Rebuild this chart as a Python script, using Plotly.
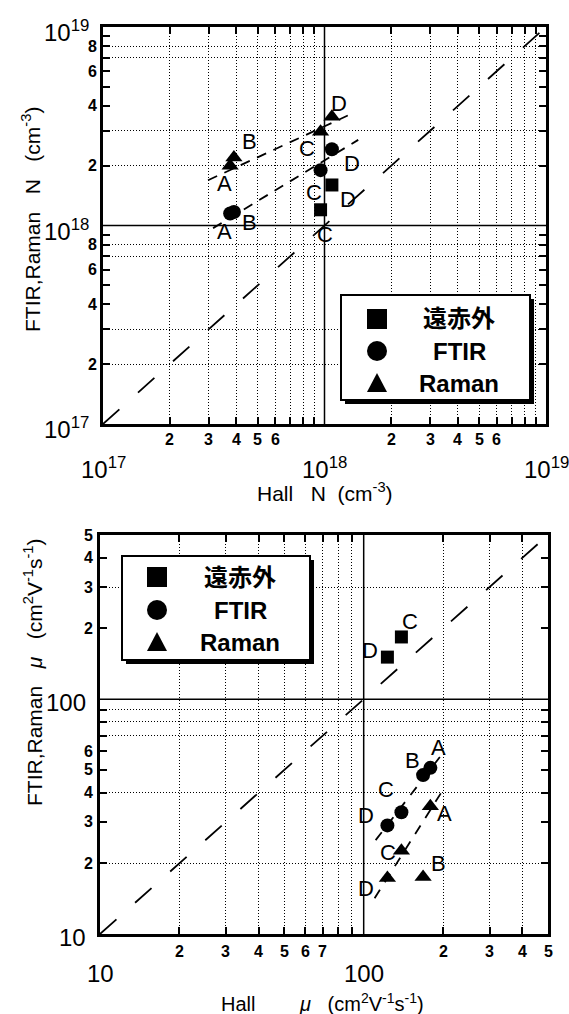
import numpy as np
import plotly.graph_objects as go

W, H = 569, 1014
FONT = "Liberation Sans"
CJK = "Noto Sans CJK JP"
SP = "\u00a0"

# ---------------- data ----------------
series_names = ["遠赤外", "FTIR", "Raman"]
samples = ["A", "B", "C", "D"]
far_ir_samples = ["C", "D"]

# carrier concentration N (cm^-3)
hall_n = [3.75e17, 3.9e17, 9.6e17, 1.08e18]
far_ir_n = [1.20e18, 1.60e18]
ftir_n = [1.15e18, 1.17e18, 1.90e18, 2.42e18]
raman_n = [2.00e18, 2.20e18, 2.97e18, 3.53e18]

# trend lines drawn through the FTIR and Raman concentrations
n_fit_ftir_x = [3.14e17, 1.42e18]
n_fit_ftir_y = [9.7e17, 2.70e18]
n_fit_raman_x = [2.98e17, 1.35e18]
n_fit_raman_y = [1.69e18, 3.69e18]

# mobility mu (cm^2 V^-1 s^-1)
hall_mu = [179, 168, 139, 123]
far_ir_mu = [184, 151]
ftir_mu = [51, 47.5, 33, 29]
raman_mu = [35, 17.5, 22.6, 17.3]

mu_fit_ftir_x = [111, 195]
mu_fit_ftir_y = [25.1, 56.9]
mu_fit_raman_x = [110, 198]
mu_fit_raman_y = [14.2, 40.4]

# axis extents
n_range = [1e17, 1e19]
mu_range = [10, 500]
n_decades = [1e17, 1e18]
mu_decades = [10, 100]

# multipliers that get a digit label / a dotted grid line
n_x_label_mult = [2, 3, 4, 5, 6]
n_y_label_mult = [2, 4, 6, 8]
n_x_grid_mult = [2, 3, 4, 5, 6, 7, 8, 9]
n_y_grid_mult = [2, 3, 7, 8]
mu_x_label_mult = [[2, 3, 4, 5, 6, 7], [2, 3, 4, 5]]
mu_y_label_mult = [[2, 3, 4, 5, 6], [2, 3, 4, 5]]
mu_x_grid_mult = [[2, 3, 4, 5, 6, 7, 8, 9], [2, 3, 4]]
mu_y_grid_mult = [[2, 4, 7, 8, 9], [3]]

# ---------------- helpers ----------------
def px_x(x):
    return x / W


def px_y(y):
    return 1 - y / H


def lg(v):
    return float(np.log10(v))


hall_far_n = [hall_n[samples.index(s)] for s in far_ir_samples]
hall_far_mu = [hall_mu[samples.index(s)] for s in far_ir_samples]


def decade_vals(decades, mults, upper):
    out = []
    for i, d in enumerate(decades):
        m = mults[i] if isinstance(mults[0], list) else mults
        out += [k * d for k in m if k * d <= upper]
    return out


all_mult = list(range(2, 10))
n_ticks = decade_vals(n_decades, all_mult, n_range[1])
mu_ticks = decade_vals(mu_decades, [all_mult, all_mult], mu_range[1])
mu_ticks = [v for v in mu_ticks if v < mu_range[1]] + [mu_range[1]]


def log_axis(domain, rng, tick_vals, grid_vals, anchor):
    return dict(
        type="log", domain=domain, range=[lg(rng[0]), lg(rng[1])],
        anchor=anchor, tickmode="array", tickvals=tick_vals,
        ticks="inside", ticklen=7, tickwidth=1.5, tickcolor="black",
        showticklabels=False, showgrid=False, zeroline=False,
        showline=True, linecolor="black", linewidth=2.5, mirror="ticks",
        minor=dict(tickmode="array", tickvals=grid_vals, showgrid=True,
                   gridcolor="black", gridwidth=1, griddash="1px,2px", ticks=""),
        fixedrange=True,
    )


fig = go.Figure()


def lines(x, y, xa, ya, dash, width):
    fig.add_trace(go.Scatter(
        x=x, y=y, mode="lines", xaxis=xa, yaxis=ya, showlegend=False,
        hoverinfo="skip", line=dict(color="black", width=width, dash=dash)))


def marks(x, y, xa, ya, symbol, size):
    fig.add_trace(go.Scatter(
        x=x, y=y, mode="markers", xaxis=xa, yaxis=ya, showlegend=False,
        marker=dict(symbol=symbol, size=size, color="black", line=dict(width=0))))


# ---- top panel: concentration ----
lines([n_decades[1]] * 2, n_range, "x", "y", "solid", 1.5)
lines(n_range, [n_decades[1]] * 2, "x", "y", "solid", 1.5)
lines(n_range, n_range, "x", "y", "22px,25px", 1.8)
lines(n_fit_raman_x, n_fit_raman_y, "x", "y", "10px,8px", 1.8)
lines(n_fit_ftir_x, n_fit_ftir_y, "x", "y", "10px,8px", 1.8)
marks(hall_far_n, far_ir_n, "x", "y", "square", 13)
marks(hall_n, ftir_n, "x", "y", "circle", 14)
marks(hall_n, raman_n, "x", "y", "triangle-up", 15)

# ---- bottom panel: mobility ----
lines([mu_decades[1]] * 2, mu_range, "x2", "y2", "solid", 1.5)
lines(mu_range, [mu_decades[1]] * 2, "x2", "y2", "solid", 1.5)
lines(mu_range, mu_range, "x2", "y2", "22px,25px", 1.8)
lines(mu_fit_ftir_x, mu_fit_ftir_y, "x2", "y2", "10px,9px", 1.8)
lines(mu_fit_raman_x, mu_fit_raman_y, "x2", "y2", "10px,9px", 1.8)
marks(hall_far_mu, far_ir_mu, "x2", "y2", "square", 13)
marks(hall_mu, ftir_mu, "x2", "y2", "circle", 14)
marks(hall_mu, raman_mu, "x2", "y2", "triangle-up", 15)

top_x_dom = [px_x(103), px_x(546)]
top_y_dom = [px_y(424), px_y(27)]
bot_x_dom = [px_x(100), px_x(548)]
bot_y_dom = [px_y(934), px_y(535)]

n_x_grid = decade_vals(n_decades, n_x_grid_mult, n_range[1])
n_y_grid = decade_vals(n_decades, n_y_grid_mult, n_range[1])
mu_x_grid = decade_vals(mu_decades, mu_x_grid_mult, mu_range[1])
mu_y_grid = decade_vals(mu_decades, mu_y_grid_mult, mu_range[1])

annotations = []


def ann(text, x, y, xref, yref, size, xanchor="center", yanchor="middle",
        xshift=0, yshift=0, family=FONT, angle=0):
    annotations.append(dict(
        text=text, x=x, y=y, xref=xref, yref=yref, showarrow=False,
        xanchor=xanchor, yanchor=yanchor, xshift=xshift, yshift=yshift,
        textangle=angle, font=dict(family=family, size=size, color="black")))


# tick labels, top panel
for d in n_decades:
    for m in n_x_label_mult:
        ann(f"<b>{m}</b>", lg(m * d), 0, "x", "y domain", 16, yshift=-15)
    for m in n_y_label_mult:
        ann(f"<b>{m}</b>", 0, lg(m * d), "x domain", "y", 16,
            xanchor="right", xshift=-4)
for d in n_decades + [n_range[1]]:
    e = int(round(lg(d)))
    ann(f"10<sup>{e}</sup>", lg(d), 0, "x", "y domain", 24, yshift=-44)
    ann(f"10<sup>{e}</sup>", 0, lg(d), "x domain", "y", 24,
        xanchor="right", xshift=-12, yshift=-4)

# tick labels, bottom panel
for i, d in enumerate(mu_decades):
    for m in mu_x_label_mult[i]:
        ann(f"<b>{m}</b>", lg(m * d), 0, "x2", "y2 domain", 16, yshift=-17)
    for m in mu_y_label_mult[i]:
        ann(f"<b>{m}</b>", 0, lg(m * d), "x2 domain", "y2", 16,
            xanchor="right", xshift=-5)
for d in mu_decades:
    ann(f"{d}", lg(d), 0, "x2", "y2 domain", 24, yshift=-39)
    ann(f"{d}", 0, lg(d), "x2 domain", "y2", 24,
        xanchor="right", xshift=-12, yshift=-3)

# axis titles
ann(f"Hall{SP*3}N{SP*2}(cm<sup>-3</sup>)", px_x(325), px_y(492),
    "paper", "paper", 21)
ann(f"FTIR,Raman{SP*3}N{SP*3}(cm<sup>-3</sup>)", px_x(31), px_y(220),
    "paper", "paper", 21, angle=-90)
ann(f"Hall{SP*8}<i>μ</i>{SP*3}(cm<sup>2</sup>V<sup>-1</sup>s<sup>-1</sup>)",
    px_x(322), px_y(1002), "paper", "paper", 20)
ann(f"FTIR,Raman{SP*3}<i>μ</i>{SP*3}(cm<sup>2</sup>V<sup>-1</sup>s<sup>-1</sup>)",
    px_x(33), px_y(672), "paper", "paper", 21, angle=-90)

# sample letters next to the points (pixel offsets: right, down)
n_label_off = {
    "far": {"C": (4, 25), "D": (16, 15)},
    "ftir": {"A": (-6, 18), "B": (16, 11), "C": (-7, 22), "D": (20, 14)},
    "raman": {"A": (-6, 18), "B": (16, -16), "C": (-14, 17), "D": (7, -13)},
}
mu_label_off = {
    "far": {"C": (9, -15), "D": (-17, -7)},
    "ftir": {"A": (8, -20), "B": (-11, -15), "C": (-15, -23), "D": (-21, -10)},
    "raman": {"A": (14, 7), "B": (15, -13), "C": (-13, 2), "D": (-21, 10)},
}


def letters(names, xs, ys, offs, xa, ya):
    for s, xv, yv in zip(names, xs, ys):
        dx, dy = offs[s]
        ann(s, lg(xv), lg(yv), xa, ya, 22, xshift=dx, yshift=-dy)


letters(far_ir_samples, hall_far_n, far_ir_n, n_label_off["far"], "x", "y")
letters(samples, hall_n, ftir_n, n_label_off["ftir"], "x", "y")
letters(samples, hall_n, raman_n, n_label_off["raman"], "x", "y")
letters(far_ir_samples, hall_far_mu, far_ir_mu, mu_label_off["far"], "x2", "y2")
letters(samples, hall_mu, ftir_mu, mu_label_off["ftir"], "x2", "y2")
letters(samples, hall_mu, raman_mu, mu_label_off["raman"], "x2", "y2")

# legend boxes
shapes = []


def legend_box(left, top, right, bottom, mark_x, rows, text_x):
    shapes.append(dict(type="rect", xref="paper", yref="paper", layer="above",
                       x0=px_x(left + 4), x1=px_x(right + 4),
                       y0=px_y(bottom + 4), y1=px_y(top + 4),
                       fillcolor="black", line=dict(width=0)))
    shapes.append(dict(type="rect", xref="paper", yref="paper", layer="above",
                       x0=px_x(left), x1=px_x(right), y0=px_y(bottom), y1=px_y(top),
                       fillcolor="white", line=dict(color="black", width=2)))
    r = 10
    y0 = rows[0]
    shapes.append(dict(type="rect", xref="paper", yref="paper", layer="above",
                       x0=px_x(mark_x - r), x1=px_x(mark_x + r),
                       y0=px_y(y0 + r), y1=px_y(y0 - r),
                       fillcolor="black", line=dict(width=0)))
    y1 = rows[1]
    shapes.append(dict(type="circle", xref="paper", yref="paper", layer="above",
                       x0=px_x(mark_x - r), x1=px_x(mark_x + r),
                       y0=px_y(y1 + r), y1=px_y(y1 - r),
                       fillcolor="black", line=dict(width=0)))
    y2 = rows[2]
    path = (f"M {px_x(mark_x - r)},{px_y(y2 + 9)} "
            f"L {px_x(mark_x + r)},{px_y(y2 + 9)} "
            f"L {px_x(mark_x)},{px_y(y2 - 10)} Z")
    shapes.append(dict(type="path", xref="paper", yref="paper", layer="above",
                       path=path, fillcolor="black", line=dict(width=0)))
    for name, yy in zip(series_names, rows):
        if name == series_names[0]:
            ann(f"<b>{name}</b>", px_x(text_x), px_y(yy - 2), "paper", "paper",
                24, family=CJK)
        else:
            ann(f"<b>{name}</b>", px_x(text_x), px_y(yy), "paper", "paper",
                24, family=FONT)


legend_box(341, 295, 530, 400, 377, [319, 351, 383], 459)
legend_box(122, 556, 310, 660, 157, [577, 610, 642], 240)

fig.update_layout(
    width=W, height=H, margin=dict(l=0, r=0, t=0, b=0),
    paper_bgcolor="white", plot_bgcolor="white", showlegend=False,
    xaxis=log_axis(top_x_dom, n_range, n_ticks, n_x_grid, "y"),
    yaxis=log_axis(top_y_dom, n_range, n_ticks, n_y_grid, "x"),
    xaxis2=log_axis(bot_x_dom, mu_range, mu_ticks, mu_x_grid, "y2"),
    yaxis2=log_axis(bot_y_dom, mu_range, mu_ticks, mu_y_grid, "x2"),
    annotations=annotations, shapes=shapes,
)

fig.write_html("out.html")
